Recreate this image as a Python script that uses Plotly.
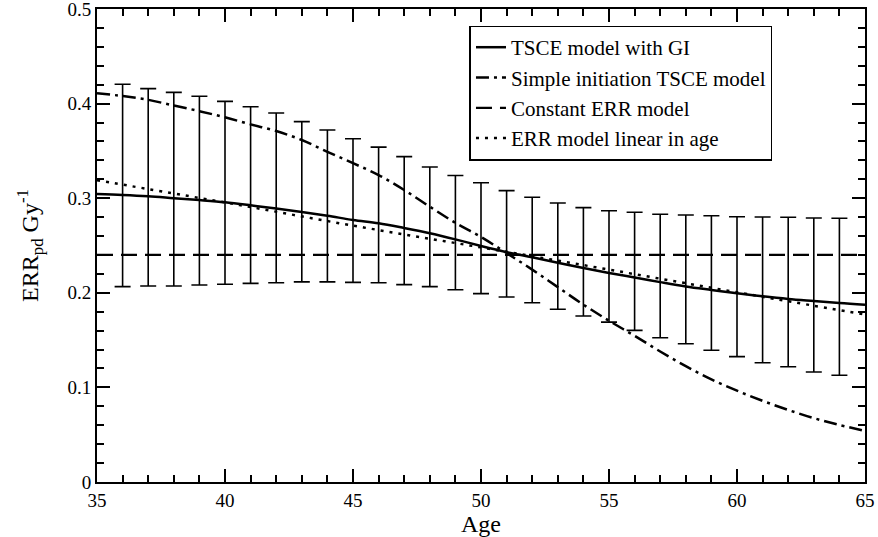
import plotly.graph_objects as go

# ---- data ----
ages = list(range(35, 66))
tsce_gi = [0.3044, 0.3034, 0.302, 0.300, 0.298, 0.2957, 0.2925, 0.289, 0.2855, 0.2815,
           0.277, 0.2735, 0.2685, 0.263, 0.2565, 0.2495, 0.2430, 0.2375, 0.2318, 0.2262,
           0.2210, 0.2162, 0.2113, 0.2067, 0.2030, 0.1995, 0.1963, 0.1935, 0.1913, 0.1892,
           0.1875]
simple_init = [0.411, 0.408, 0.404, 0.398, 0.392, 0.3855, 0.378, 0.371, 0.3615, 0.349,
               0.337, 0.3245, 0.3087, 0.291, 0.274, 0.259, 0.242, 0.2245, 0.206, 0.1875,
               0.1705, 0.1545, 0.138, 0.1225, 0.1085, 0.0965, 0.0858, 0.0762, 0.0675, 0.0603,
               0.054]
const_ages = [35, 65]
const_err = [0.24, 0.24]
lin_ages = [35, 40, 45, 50, 55, 60, 65]
lin_err = [0.319, 0.2955, 0.271, 0.248, 0.2245, 0.2005, 0.177]

bar_ages = list(range(36, 65))
bar_upper = [0.4204, 0.4158, 0.4119, 0.4077, 0.4024, 0.3967, 0.3901, 0.3809, 0.3721, 0.3629,
             0.354, 0.344, 0.333, 0.324, 0.3164, 0.308, 0.301, 0.295, 0.290, 0.2868,
             0.2851, 0.2830, 0.2822, 0.2815, 0.2804, 0.2801, 0.2798, 0.2791, 0.2788]
bar_lower = [0.2065, 0.2072, 0.2072, 0.2082, 0.2090, 0.2100, 0.2107, 0.2115, 0.2115, 0.2110,
             0.2107, 0.2086, 0.2065, 0.2033, 0.1991, 0.1956, 0.1895, 0.1826, 0.1755, 0.1690,
             0.1603, 0.1525, 0.1462, 0.1392, 0.1325, 0.1261, 0.1219, 0.1163, 0.1128]

x_ticks = [35, 40, 45, 50, 55, 60, 65]
y_ticks = [0, 0.1, 0.2, 0.3, 0.4, 0.5]
y_tick_labels = ["0", "0.1", "0.2", "0.3", "0.4", "0.5"]

FONT = "Liberation Serif"

fig = go.Figure()

# error bars (interval of the TSCE model with GI)
fig.add_trace(go.Scatter(
    x=bar_ages, y=bar_lower, mode="markers",
    marker=dict(size=1, color="rgba(0,0,0,0)"),
    error_y=dict(type="data", symmetric=False,
                 array=[u - l for u, l in zip(bar_upper, bar_lower)],
                 arrayminus=[0] * len(bar_lower),
                 color="black", thickness=1.6, width=8),
    showlegend=False, hoverinfo="skip"))

fig.add_trace(go.Scatter(x=ages, y=tsce_gi, mode="lines", name="TSCE model with GI",
                         line=dict(color="black", width=2.5, shape="spline")))
fig.add_trace(go.Scatter(x=ages, y=simple_init, mode="lines", name="Simple initiation TSCE model",
                         line=dict(color="black", width=2.5, shape="spline",
                                   dash="13px,5px,3px,5px")))
fig.add_trace(go.Scatter(x=const_ages, y=const_err, mode="lines", name="Constant ERR model",
                         line=dict(color="black", width=2.2, dash="16px,8px")))
fig.add_trace(go.Scatter(x=lin_ages, y=lin_err, mode="lines", name="ERR model linear in age",
                         line=dict(color="black", width=2.5, shape="spline", dash="3px,6px")))

axis_common = dict(
    showline=True, linecolor="black", linewidth=2, mirror="ticks",
    ticks="inside", ticklen=13, tickwidth=1.5, tickcolor="black",
    showgrid=False, zeroline=False, automargin=False, ticklabeloverflow="allow",
    tickfont=dict(family=FONT, size=19, color="black"),
)

fig.update_xaxes(range=[35, 65], tickvals=x_ticks,
                 minor=dict(dtick=1, ticks="inside", ticklen=7, tickwidth=1.5, tickcolor="black"),
                 title=dict(text="Age", font=dict(family=FONT, size=24, color="black"), standoff=0),
                 **axis_common)
fig.update_yaxes(range=[0, 0.5], tickvals=y_ticks, ticktext=y_tick_labels,
                 minor=dict(dtick=0.02, tick0=0, ticks="inside", ticklen=7, tickwidth=1.5,
                            tickcolor="black"),
                 title=dict(text="ERR<sub>pd</sub> Gy<sup>-1</sup>",
                            font=dict(family=FONT, size=24, color="black"), standoff=22),
                 **axis_common)

fig.update_layout(
    width=878, height=537,
    margin=dict(l=97, r=13, t=9, b=55),
    paper_bgcolor="white", plot_bgcolor="white",
    font=dict(family=FONT, color="black"),
    legend=dict(x=0.485, y=0.965, xanchor="left", yanchor="top",
                bgcolor="white", bordercolor="black", borderwidth=1.5,
                font=dict(family=FONT, size=21, color="black")),
)

fig.write_html("out.html", config={"displayModeBar": False},
               post_script="document.body.style.margin='0';")
